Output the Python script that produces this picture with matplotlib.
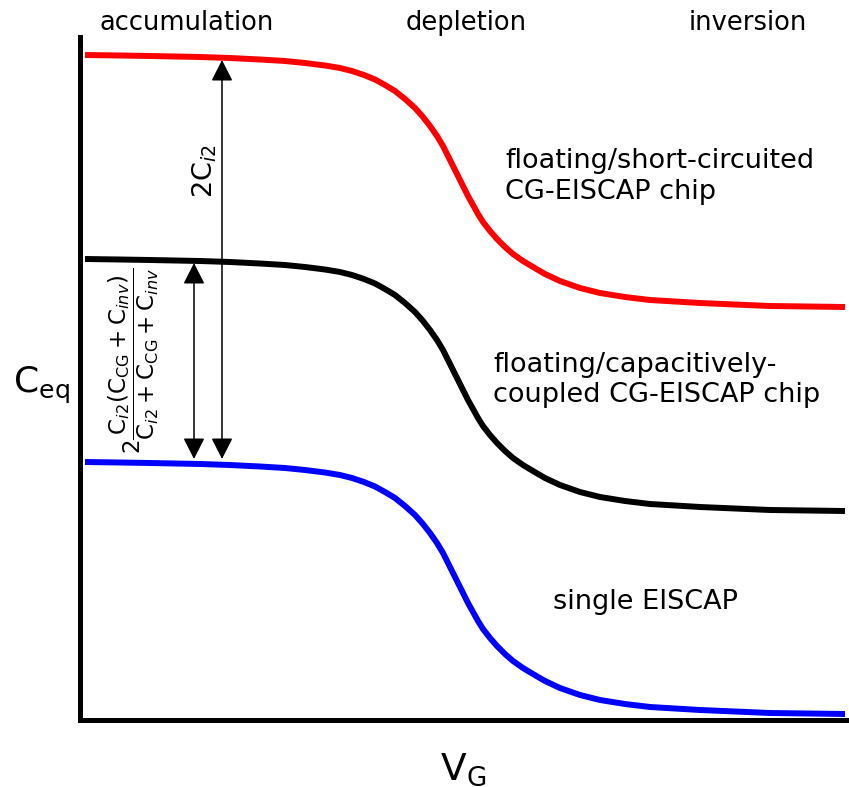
import matplotlib
matplotlib.use("Agg")
import matplotlib.pyplot as plt

plt.rcParams['font.family'] = ['DejaVu Sans']
plt.rcParams['mathtext.fontset'] = 'dejavusans'

# gate voltage (arbitrary units) and equivalent capacitance (arbitrary units)
vg = [5, 40, 70, 120, 150, 180, 205, 225, 245, 260,
      272, 284, 295, 305, 315, 325, 335, 343, 350, 357,
      363, 368, 373, 378, 383, 388, 393, 398, 403, 410,
      417, 425, 433, 443, 453, 465, 480, 500, 520, 545,
      570, 620, 690, 765]
c_single = [258, 257.5, 257, 256, 255, 253.5, 252, 250, 247.5, 245,
            242, 238, 233.5, 228, 222, 214, 205, 196, 187, 177,
            167, 157, 147, 137, 127, 117, 108, 99, 91, 82,
            74, 66, 59, 52, 46, 39, 32, 25, 20, 16,
            13, 10, 7, 6]
c_coupled = [461, 460.5, 460, 459, 458, 456.5, 455, 453, 450.5, 448,
             445, 441, 436.5, 431, 425, 417, 408, 399, 390, 380,
             370, 360, 350, 340, 330, 320, 311, 302, 294, 285,
             277, 269, 262, 255, 249, 242, 235, 228, 223, 219,
             216, 213, 210, 209]
c_short = [665, 664.5, 664, 663, 662, 660.5, 659, 657, 654.5, 652,
           649, 645, 640.5, 635, 629, 621, 612, 603, 594, 584,
           574, 564, 554, 544, 534, 524, 515, 506, 498, 489,
           481, 473, 466, 459, 453, 446, 439, 432, 427, 423,
           420, 417, 414, 413]

regions = ['accumulation', 'depletion', 'inversion']
region_x = [107, 386, 668]
curve_labels = ['floating/short-circuited\nCG-EISCAP chip',
                'floating/capacitively-\ncoupled CG-EISCAP chip',
                'single EISCAP']

W, H = 849, 787
fig = plt.figure(figsize=(W / 100, H / 100), dpi=100)
ax = fig.add_axes([80 / W, 67 / H, 769 / W, 683 / H])
ax.set_xlim(0, 769)
ax.set_ylim(0, 683)

lw = 4.3
for yv, col in [(c_short, '#ff0000'), (c_coupled, 'black'), (c_single, '#0000ff')]:
    ax.plot(vg, yv, color=col, lw=lw, solid_capstyle='butt',
            solid_joinstyle='round')

for s in ['top', 'right']:
    ax.spines[s].set_visible(False)
for s in ['left', 'bottom']:
    ax.spines[s].set_linewidth(3.6)
    ax.spines[s].set_capstyle('projecting')
ax.set_xticks([])
ax.set_yticks([])

arrow = dict(arrowstyle='<|-|>,head_length=0.65,head_width=0.33',
             color='black', lw=1.1, shrinkA=0, shrinkB=0, mutation_scale=20)
ax.annotate('', xy=(142, 660), xytext=(142, 261), arrowprops=arrow)
ax.annotate('', xy=(114, 457), xytext=(114, 261), arrowprops=arrow)

ax.text(125, 549, r'$2\mathrm{C}_{i2}$', rotation=90, fontsize=19.5,
        ha='center', va='center')
ax.text(54, 359,
        r'$2\dfrac{\mathrm{C}_{i2}(\mathrm{C}_{\mathrm{CG}}+\mathrm{C}_{inv})}'
        r'{\mathrm{C}_{i2}+\mathrm{C}_{\mathrm{CG}}+\mathrm{C}_{inv}}$',
        rotation=90, fontsize=16.6, ha='center', va='center')

for name, x in zip(regions, region_x):
    ax.text(x, 697, name, fontsize=18.5, ha='center', va='center', clip_on=False)

ax.text(425, 543.5, curve_labels[0], fontsize=19.5, ha='left', va='center',
        linespacing=1.25)
ax.text(413, 340, curve_labels[1], fontsize=19.5, ha='left', va='center',
        linespacing=1.25)
ax.text(473, 118, curve_labels[2], fontsize=19.5, ha='left', va='center')

ax.text(-39, 335, r'$\mathrm{C}_{\mathrm{eq}}$', fontsize=26, ha='center',
        va='center', clip_on=False)
ax.text(383, -50, r'$\mathrm{V}_{\mathrm{G}}$', fontsize=27, ha='center',
        va='center', clip_on=False)

fig.savefig('out.png', dpi=100)
